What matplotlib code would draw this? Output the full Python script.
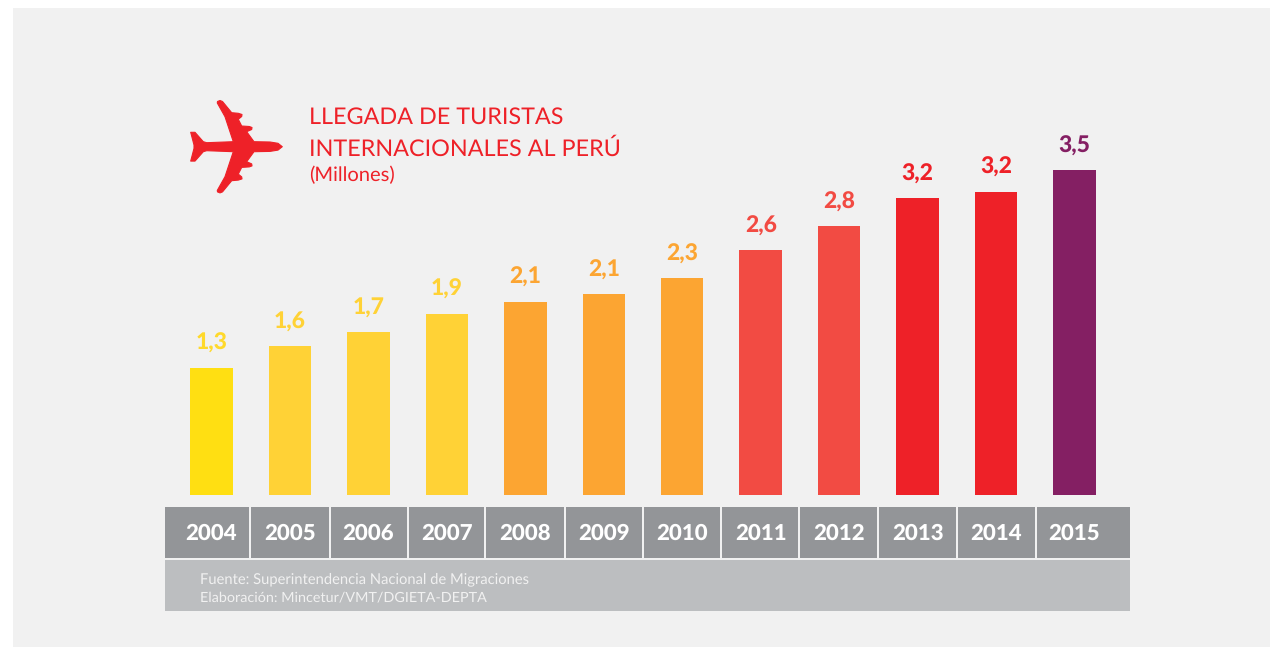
import matplotlib
matplotlib.use('Agg')
import matplotlib.pyplot as plt
from matplotlib.patches import Polygon, Rectangle

plt.rcParams['font.family'] = ['Lato', 'DejaVu Sans']
plt.rcParams['text.hinting'] = 'none'

years = ['2004', '2005', '2006', '2007', '2008', '2009',
         '2010', '2011', '2012', '2013', '2014', '2015']
labels = ['1,3', '1,6', '1,7', '1,9', '2,1', '2,1',
          '2,3', '2,6', '2,8', '3,2', '3,2', '3,5']
# bar heights do not quite follow the rounded labels, so they are read separately
values = [1.37, 1.60, 1.75, 1.95, 2.08, 2.16, 2.33, 2.63, 2.89, 3.19, 3.26, 3.49]
colors = ['#ffdf12', '#ffd236', '#ffd236', '#ffd236', '#fca532', '#fca532',
          '#fca532', '#f24b43', '#f24b43', '#ee2128', '#ee2128', '#841f63']
label_colors = ['#ffd92b', '#ffd236', '#ffd236', '#ffd236', '#fca532', '#fca532',
                '#fca532', '#f24b43', '#f24b43', '#ee2128', '#ee2128', '#841f63']

W, H = 1270, 647
RED = '#ee2128'

fig = plt.figure(figsize=(W / 100, H / 100), dpi=100, facecolor='white')

# overlay in pixel coordinates for panel, strip and title
bg = fig.add_axes([0, 0, 1, 1])
bg.set_xlim(0, W)
bg.set_ylim(H, 0)
bg.axis('off')
bg.add_patch(Rectangle((13, 8), W - 13, H - 8, fc='#f1f1f1', ec='none'))

# year strip
cell_edges = [(165, 249), (251, 329), (331, 407), (409, 484), (486, 564), (566, 642),
              (644, 720), (722, 798), (800, 877), (879, 956), (958, 1035), (1037, 1130)]
for x0, x1 in cell_edges:
    bg.add_patch(Rectangle((x0, 507), x1 - x0, 51, fc='#939598', ec='none'))
bg.add_patch(Rectangle((165, 560), 965, 51, fc='#bcbec0', ec='none'))

bg.text(200, 579, 'Fuente: Superintendencia Nacional de Migraciones', fontsize=10.6,
        color='#f1f1f1', va='center', ha='left')
bg.text(200, 597, 'Elaboración: Mincetur/VMT/DGIETA-DEPTA', fontsize=10.4,
        color='#f1f1f1', va='center', ha='left')

# title
bg.text(309, 117, 'LLEGADA DE TURISTAS', fontsize=16.85, color=RED, va='center', ha='left')
bg.text(309, 149, 'INTERNACIONALES AL PERÚ', fontsize=16.85, color=RED, va='center', ha='left')
bg.text(309, 175, '(Millones)', fontsize=14.5, color=RED, va='center', ha='left')

# plane icon, upper half outline in pixels, mirrored over the fuselage axis
axis_y = 146.7
upper = [(282.3, 146.7), (278, 143.3), (270, 142), (254, 141.7), (246.7, 131.7),
         (251.7, 129.5), (252, 127.5), (249.3, 126.5), (241.7, 126), (238.3, 119.3),
         (241.7, 116.5), (242, 114.5), (238.3, 113.3), (231.7, 112.7), (222.5, 101.5),
         (220, 100.5), (217.5, 101.5), (217.3, 103), (225, 116.7), (233.3, 141.7),
         (206.7, 142.7), (203.3, 141.7), (195, 132.3), (190.7, 132.3), (194, 145)]
lower = [(x, 2 * axis_y - y) for x, y in reversed(upper[1:])]
bg.add_patch(Polygon(upper + lower, closed=True, fc=RED, ec=RED, lw=0.8, joinstyle='round'))

# bars
ax = fig.add_axes([172.3 / W, (H - 495) / H, (1113.7 - 172.3) / W, 400 / H])
ax.patch.set_alpha(0)
pos = list(range(len(years)))
ax.bar(pos, values, width=0.54, color=colors)
ax.set_xlim(-0.5, 11.5)
ax.set_ylim(0, 400 / 93)
ax.axis('off')

for i in pos:
    ax.annotate(labels[i], (i, values[i]), xytext=(0, 17.5), textcoords='offset points',
                ha='center', va='center', fontsize=16.5, fontweight='black',
                color=label_colors[i])
    ax.annotate(years[i], (i, 0), xytext=(0, -27.8), textcoords='offset points',
                ha='center', va='center', fontsize=16, fontweight='black',
                color='white', annotation_clip=False)

fig.savefig('out.png', dpi=100, facecolor=fig.get_facecolor())
